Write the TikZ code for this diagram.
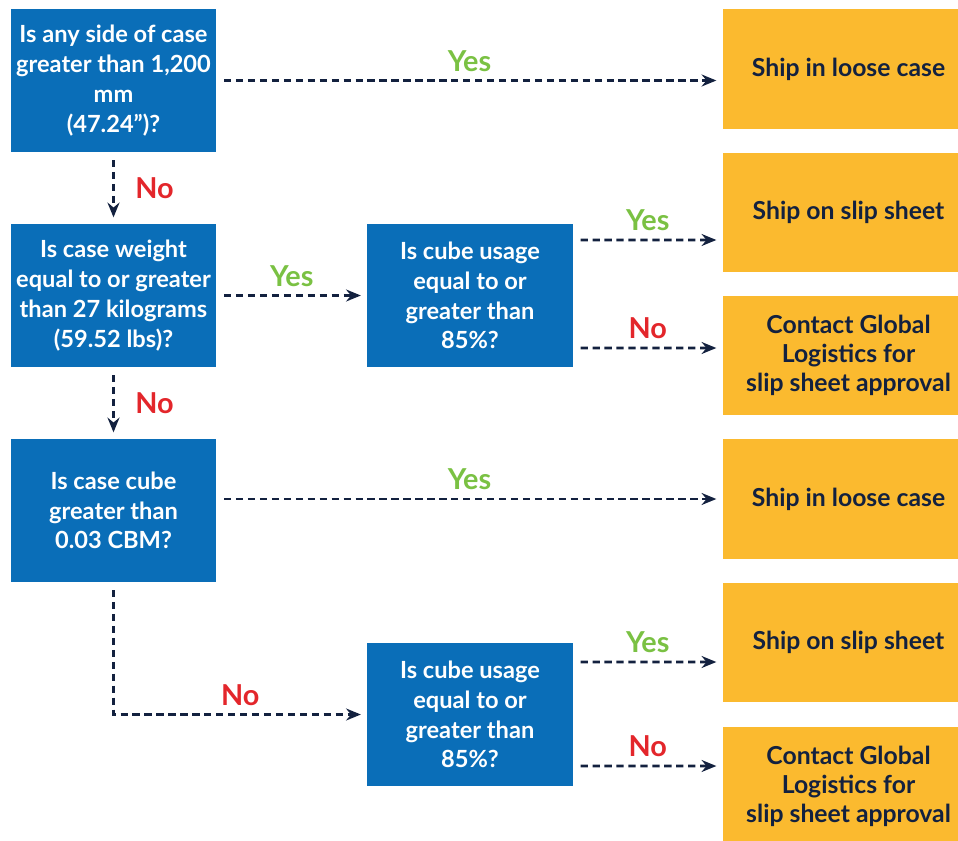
\documentclass[tikz,border=0pt]{standalone}
\usepackage{fontspec}
\setmainfont{Lato}
\usetikzlibrary{arrows.meta,calc}

\definecolor{qblue}{HTML}{0A6EB8}
\definecolor{ayellow}{HTML}{FBBA2F}
\definecolor{navy}{HTML}{13213F}
\definecolor{yesgreen}{HTML}{7AC143}
\definecolor{nored}{HTML}{E3262B}

\tikzset{
  question/.style={fill=qblue, text=white, align=center, inner sep=2pt,
    minimum width=5.125cm, minimum height=3.575cm,
    font=\fontsize{16.8}{21.2}\selectfont\bfseries},
  answer/.style={fill=ayellow, inner sep=0pt,
    minimum width=5.875cm, minimum height=2.975cm},
  answertext/.style={text=navy, align=center, inner sep=1pt,
    font=\fontsize{17.6}{20.4}\selectfont\bfseries},
  flow/.style={navy, line width=2pt, dash pattern=on 5.2pt off 3.3pt,
    -{Stealth[length=10.5pt, width=8.5pt, inset=3.5pt]},
    shorten <=5.5pt, shorten >=4.5pt},
  yes/.style={text=yesgreen, font=\fontsize{20.5}{22}\selectfont\bfseries, inner sep=5.5pt},
  no/.style={text=nored, font=\fontsize{20.5}{22}\selectfont\bfseries, inner sep=5.5pt}
}

\begin{document}
\begin{tikzpicture}[x=0.025cm, y=-0.025cm]
  % page frame, same size as the reference
  \clip (0,0) rectangle (958,840);

  % questions down the left, and the two cube usage checks
  \node[question] (q1) at (113.5,80.5) {Is any side of case\\greater than 1,200\\mm\\(47.24\symbol{34})?};
  \node[question] (q2) at (113.5,295.5) {Is case weight\\equal to or greater\\than 27 kilograms\\(59.52 lbs)?};
  \node[question] (q3) at (113.5,510.5) {Is case cube\\greater than\\0.03 CBM?};
  \node[question] (q4) at (470,295.5) {Is cube usage\\equal to or\\greater than\\85\%?};
  \node[question] (q5) at (470,714.5) {Is cube usage\\equal to or\\greater than\\85\%?};

  % outcomes on the right (text sits a little right of centre)
  \node[answer] (s1) at (840.5,69) {};
  \node[answer] (s2) at (840.5,212.5) {};
  \node[answer] (s3) at (840.5,355.5) {};
  \node[answer] (s4) at (840.5,499) {};
  \node[answer] (s5) at (840.5,642.5) {};
  \node[answer] (s6) at (840.5,786.5) {};
  \node[answertext] (s1t) at ($(s1)+(8,0)$) {Ship in loose case};
  \node[answertext] (s2t) at ($(s2)+(8,0)$) {Ship on slip sheet};
  \node[answertext] (s3t) at ($(s3)+(8,0)$) {Contact Global\\Logistics for\\slip sheet approval};
  \node[answertext] (s4t) at ($(s4)+(8,0)$) {Ship in loose case};
  \node[answertext] (s5t) at ($(s5)+(8,0)$) {Ship on slip sheet};
  \node[answertext] (s6t) at ($(s6)+(8,0)$) {Contact Global\\Logistics for\\slip sheet approval};

  % yes / no branches
  \draw[flow] (q1.east) -- (q1.east -| s1.west) node[midway, above, yes] {Yes};
  \draw[flow] (q1.south) -- (q2.north) node[midway, right, xshift=9pt, no] {No};
  \draw[flow] (q2.east) -- (q4.west) node[midway, above, yes] {Yes};
  \draw[flow] (q2.south) -- (q3.north) node[midway, right, xshift=9pt, no] {No};
  \draw[flow] (s4.west -| q3.east) -- (s4.west) node[midway, above, yes] {Yes};
  \draw[flow] (q3.south) |- (q5.west) node[pos=0.75, above, no] {No};

  \draw[flow] ($(q4.east)+(0,-55.5)$) -- ($(s2.west)+(0,27.5)$) node[midway, above, yes] {Yes};
  \draw[flow] ($(q4.east)+(0,52.5)$) -- ($(s3.west)+(0,-7.5)$) node[midway, above, no] {No};
  \draw[flow] ($(q5.east)+(0,-52.5)$) -- ($(s5.west)+(0,19.5)$) node[midway, above, yes] {Yes};
  \draw[flow] ($(q5.east)+(0,51.5)$) -- ($(s6.west)+(0,-20.5)$) node[midway, above, no] {No};
\end{tikzpicture}
\end{document}
